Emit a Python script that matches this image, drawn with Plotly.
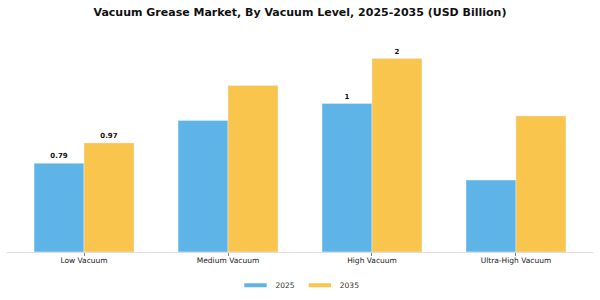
import plotly.graph_objects as go

categories = ["Low Vacuum", "Medium Vacuum", "High Vacuum", "Ultra-High Vacuum"]
series_names = ["2025", "2035"]
values_2025 = [0.79, 1.17, 1.32, 0.64]
values_2035 = [0.97, 1.48, 1.72, 1.21]
labels_2025 = ["0.79", "", "1", ""]
labels_2035 = ["0.97", "", "2", ""]

BLUE = "#5EB4E7"
YELLOW = "#F9C54D"
FONT = "DejaVu Sans"

fig = go.Figure()
for name, vals, labs, col in [
    (series_names[0], values_2025, labels_2025, BLUE),
    (series_names[1], values_2035, labels_2035, YELLOW),
]:
    fig.add_trace(go.Bar(
        x=categories, y=vals, name=name, marker_color=col,
        text=labs, textposition="outside", cliponaxis=False, showlegend=False,
        textfont=dict(family=FONT, size=7, color="#111", weight="bold"),
    ))
    # legend-only entry with a wide flat swatch
    fig.add_trace(go.Scatter(
        x=[None], y=[None], name=name, mode="markers",
        marker=dict(symbol="line-ew", size=16, color=col, line=dict(color=col, width=4)),
    ))

fig.update_layout(
    width=600, height=300,
    margin=dict(l=7, r=7, t=30, b=48, autoexpand=False),
    plot_bgcolor="white", paper_bgcolor="white",
    barmode="group", bargap=0.306, bargroupgap=0,
    title=dict(text="<b>Vacuum Grease Market, By Vacuum Level, 2025-2035 (USD Billion)</b>",
               x=0.5, xanchor="center", y=0.96, yanchor="middle",
               font=dict(family=FONT, size=11, color="#111")),
    font=dict(family=FONT, size=7.5, color="#333"),
    showlegend=True,
    legend=dict(orientation="h", x=0.5, xanchor="center", y=-0.15, yanchor="middle",
                bgcolor="rgba(0,0,0,0)",
                font=dict(family=FONT, size=7.5, color="#333"), itemsizing="trace"),
)
fig.update_xaxes(
    range=[-0.535, 3.535], showline=True, linecolor="#DDDDDD", linewidth=1,
    ticks="outside", ticklen=3, tickcolor="#888", ticklabelstandoff=-2,
    tickfont=dict(family=FONT, size=7.5, color="#222"),
    showgrid=False,
)
fig.update_yaxes(range=[0, 1.974], visible=False, showgrid=False)

fig.write_html("out.html")
